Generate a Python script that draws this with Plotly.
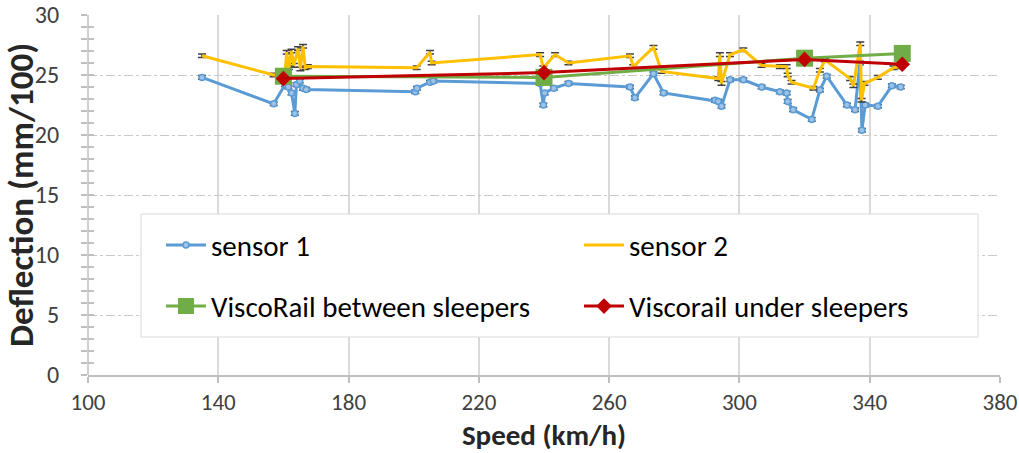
import plotly.graph_objects as go

# ---------------- data ----------------
s1_speed = [135, 157, 160.5, 161.5, 162.5, 163.5, 164, 165, 166, 167, 200.5, 201, 205, 206,
            238.8, 239.8, 240.2, 243, 247.5, 266.4, 267.9, 273.6, 276.7, 292.5, 293.5, 294.5,
            297.1, 301.2, 306.8, 312.4, 314.5, 314.8, 316.5, 322.2, 324.7, 326.8, 333.0, 335.5,
            337.0, 337.6, 338.6, 342.5, 346.8, 349.5]
s1_defl = [24.8, 22.6, 24.2, 24.0, 23.5, 21.8, 24.2, 24.5, 23.9, 23.8, 23.6, 23.9, 24.4, 24.5,
           24.3, 22.5, 23.5, 23.9, 24.3, 24.0, 23.1, 25.1, 23.5, 22.9, 22.8, 22.4,
           24.6, 24.6, 24.0, 23.6, 23.5, 22.8, 22.1, 21.3, 23.75, 24.9, 22.5, 22.1,
           26.0, 20.4, 22.5, 22.4, 24.1, 24.0]

s2_speed = [135, 157, 160.5, 161, 161.7, 162.5, 163.2, 164.5, 165.2, 166, 166.7, 167.5, 200.9,
            205, 205.5, 238.8, 239.8, 243.4, 247.5, 266.4, 267.4, 273.6, 276.1, 293.5, 294.0,
            294.5, 297.1, 301.2, 306.8, 312.4, 314.5, 314.8, 316.0, 322.7, 324.7, 326.3, 334.0,
            335.0, 337.1, 337.5, 338.4, 342.5, 347.3, 349.5]
s2_defl = [26.6, 25.0, 25.1, 26.9, 25.6, 27.0, 25.8, 27.2, 25.5, 27.4, 25.6, 25.7, 25.6,
           26.9, 26.0, 26.7, 25.6, 26.7, 26.0, 26.6, 25.7, 27.3, 25.3, 24.7, 26.7,
           24.3, 26.7, 27.1, 25.8, 25.7, 25.7, 25.0, 24.4, 23.9, 25.4, 26.25, 24.7,
           24.1, 27.6, 22.9, 24.3, 24.8, 25.6, 25.7]

visco_speed = [160, 240, 320, 350]
visco_between = [24.9, 24.8, 26.4, 26.8]
visco_under = [24.7, 25.2, 26.3, 25.9]

x_ticks = [100, 140, 180, 220, 260, 300, 340, 380]
y_ticks = [0, 5, 10, 15, 20, 25, 30]
x_title = "Speed (km/h)"
y_title = "Deflection (mm/100)"

FONT = "Carlito, 'Liberation Sans Narrow', 'Arial Narrow', Lato, sans-serif"
AXC = "#BFBFBF"
err = dict(type="constant", value=0.15, color="#404040", thickness=1.5, width=4)

fig = go.Figure()
fig.add_trace(go.Scatter(
    x=s1_speed, y=s1_defl, name="sensor 1", mode="lines+markers",
    line=dict(color="#5B9BD5", width=3),
    marker=dict(symbol="circle", size=6, color="#9DC3E6", line=dict(color="#5B9BD5", width=1.5)),
    error_y=err, legend="legend"))
fig.add_trace(go.Scatter(
    x=s2_speed, y=s2_defl, name="sensor 2", mode="lines",
    line=dict(color="#FFC000", width=3),
    error_y=err, legend="legend2"))
fig.add_trace(go.Scatter(
    x=visco_speed, y=visco_between, name="ViscoRail between sleepers", mode="lines+markers",
    line=dict(color="#70AD47", width=3),
    marker=dict(symbol="square", size=17, color="#70AD47"), legend="legend3"))
fig.add_trace(go.Scatter(
    x=visco_speed, y=visco_under, name="Viscorail under sleepers", mode="lines+markers",
    line=dict(color="#C00000", width=3),
    marker=dict(symbol="diamond", size=12, color="#C00000"), legend="legend4"))
# helper overlay axis only used to draw the inner half of the crossing y ticks
fig.add_trace(go.Scatter(x=[None], y=[None], yaxis="y2", showlegend=False, hoverinfo="skip"))

leg_common = dict(orientation="h", xanchor="left", yanchor="middle",
                  bgcolor="rgba(0,0,0,0)", borderwidth=0,
                  font=dict(family=FONT, size=29, color="#000000"), itemwidth=40)

col1, col2 = 0.080, 0.5384
row1, row2 = 0.361, 0.191

y_common = dict(range=[0, 30], tickvals=y_ticks, showline=False, zeroline=False,
                ticklen=6, tickcolor=AXC, tickwidth=1.5, automargin=False)

fig.update_layout(
    width=1019, height=453,
    margin=dict(l=88, r=19, t=15, b=78),
    paper_bgcolor="white", plot_bgcolor="white",
    font=dict(family=FONT, color="#404040"),
    showlegend=True,
    legend=dict(x=col1, y=row1, **leg_common),
    legend2=dict(x=col2, y=row1, **leg_common),
    legend3=dict(x=col1, y=row2, **leg_common),
    legend4=dict(x=col2, y=row2, **leg_common),
    xaxis=dict(
        range=[100, 380], tickvals=x_ticks, ticktext=[str(v) for v in x_ticks],
        showgrid=True, gridcolor="#D9D9D9", gridwidth=1.5,
        showline=True, linecolor=AXC, linewidth=1.5,
        ticks="outside", ticklen=6, tickcolor=AXC, tickwidth=1.5,
        ticklabelstandoff=0, automargin=False,
        tickfont=dict(family=FONT, size=23, color="#404040"),
        zeroline=False,
        title=dict(text="<b>" + x_title + "</b>", font=dict(family=FONT, size=29, color="#262626"),
                   standoff=9),
    ),
    yaxis=dict(
        ticktext=[str(v) for v in y_ticks],
        showgrid=True, gridcolor="#C8C8C8", gridwidth=1, griddash="dashdot",
        ticks="outside",
        minor=dict(dtick=1, ticks="outside", ticklen=6, tickcolor=AXC, tickwidth=1.5,
                   showgrid=False),
        ticklabelstandoff=17,
        tickfont=dict(family=FONT, size=24, color="#404040"),
        title=dict(text="<b>" + y_title + "</b>", font=dict(family=FONT, size=35, color="#262626"),
                   standoff=11),
        **y_common,
    ),
    yaxis2=dict(
        overlaying="y", anchor="x", side="left", showgrid=False, showticklabels=False,
        ticks="inside",
        minor=dict(dtick=1, ticks="inside", ticklen=6, tickcolor=AXC, tickwidth=1.5,
                   showgrid=False),
        **y_common,
    ),
    shapes=[
        dict(type="line", xref="paper", yref="paper", x0=0, x1=0, y0=0, y1=1,
             line=dict(color=AXC, width=1.5), layer="above"),
        dict(type="rect", xref="paper", yref="paper",
             x0=0.0581, x1=0.9759, y0=0.1056, y1=0.4472,
             line=dict(color="#D9D9D9", width=1), fillcolor="white", layer="above"),
    ],
)

fig.write_html("out.html")
